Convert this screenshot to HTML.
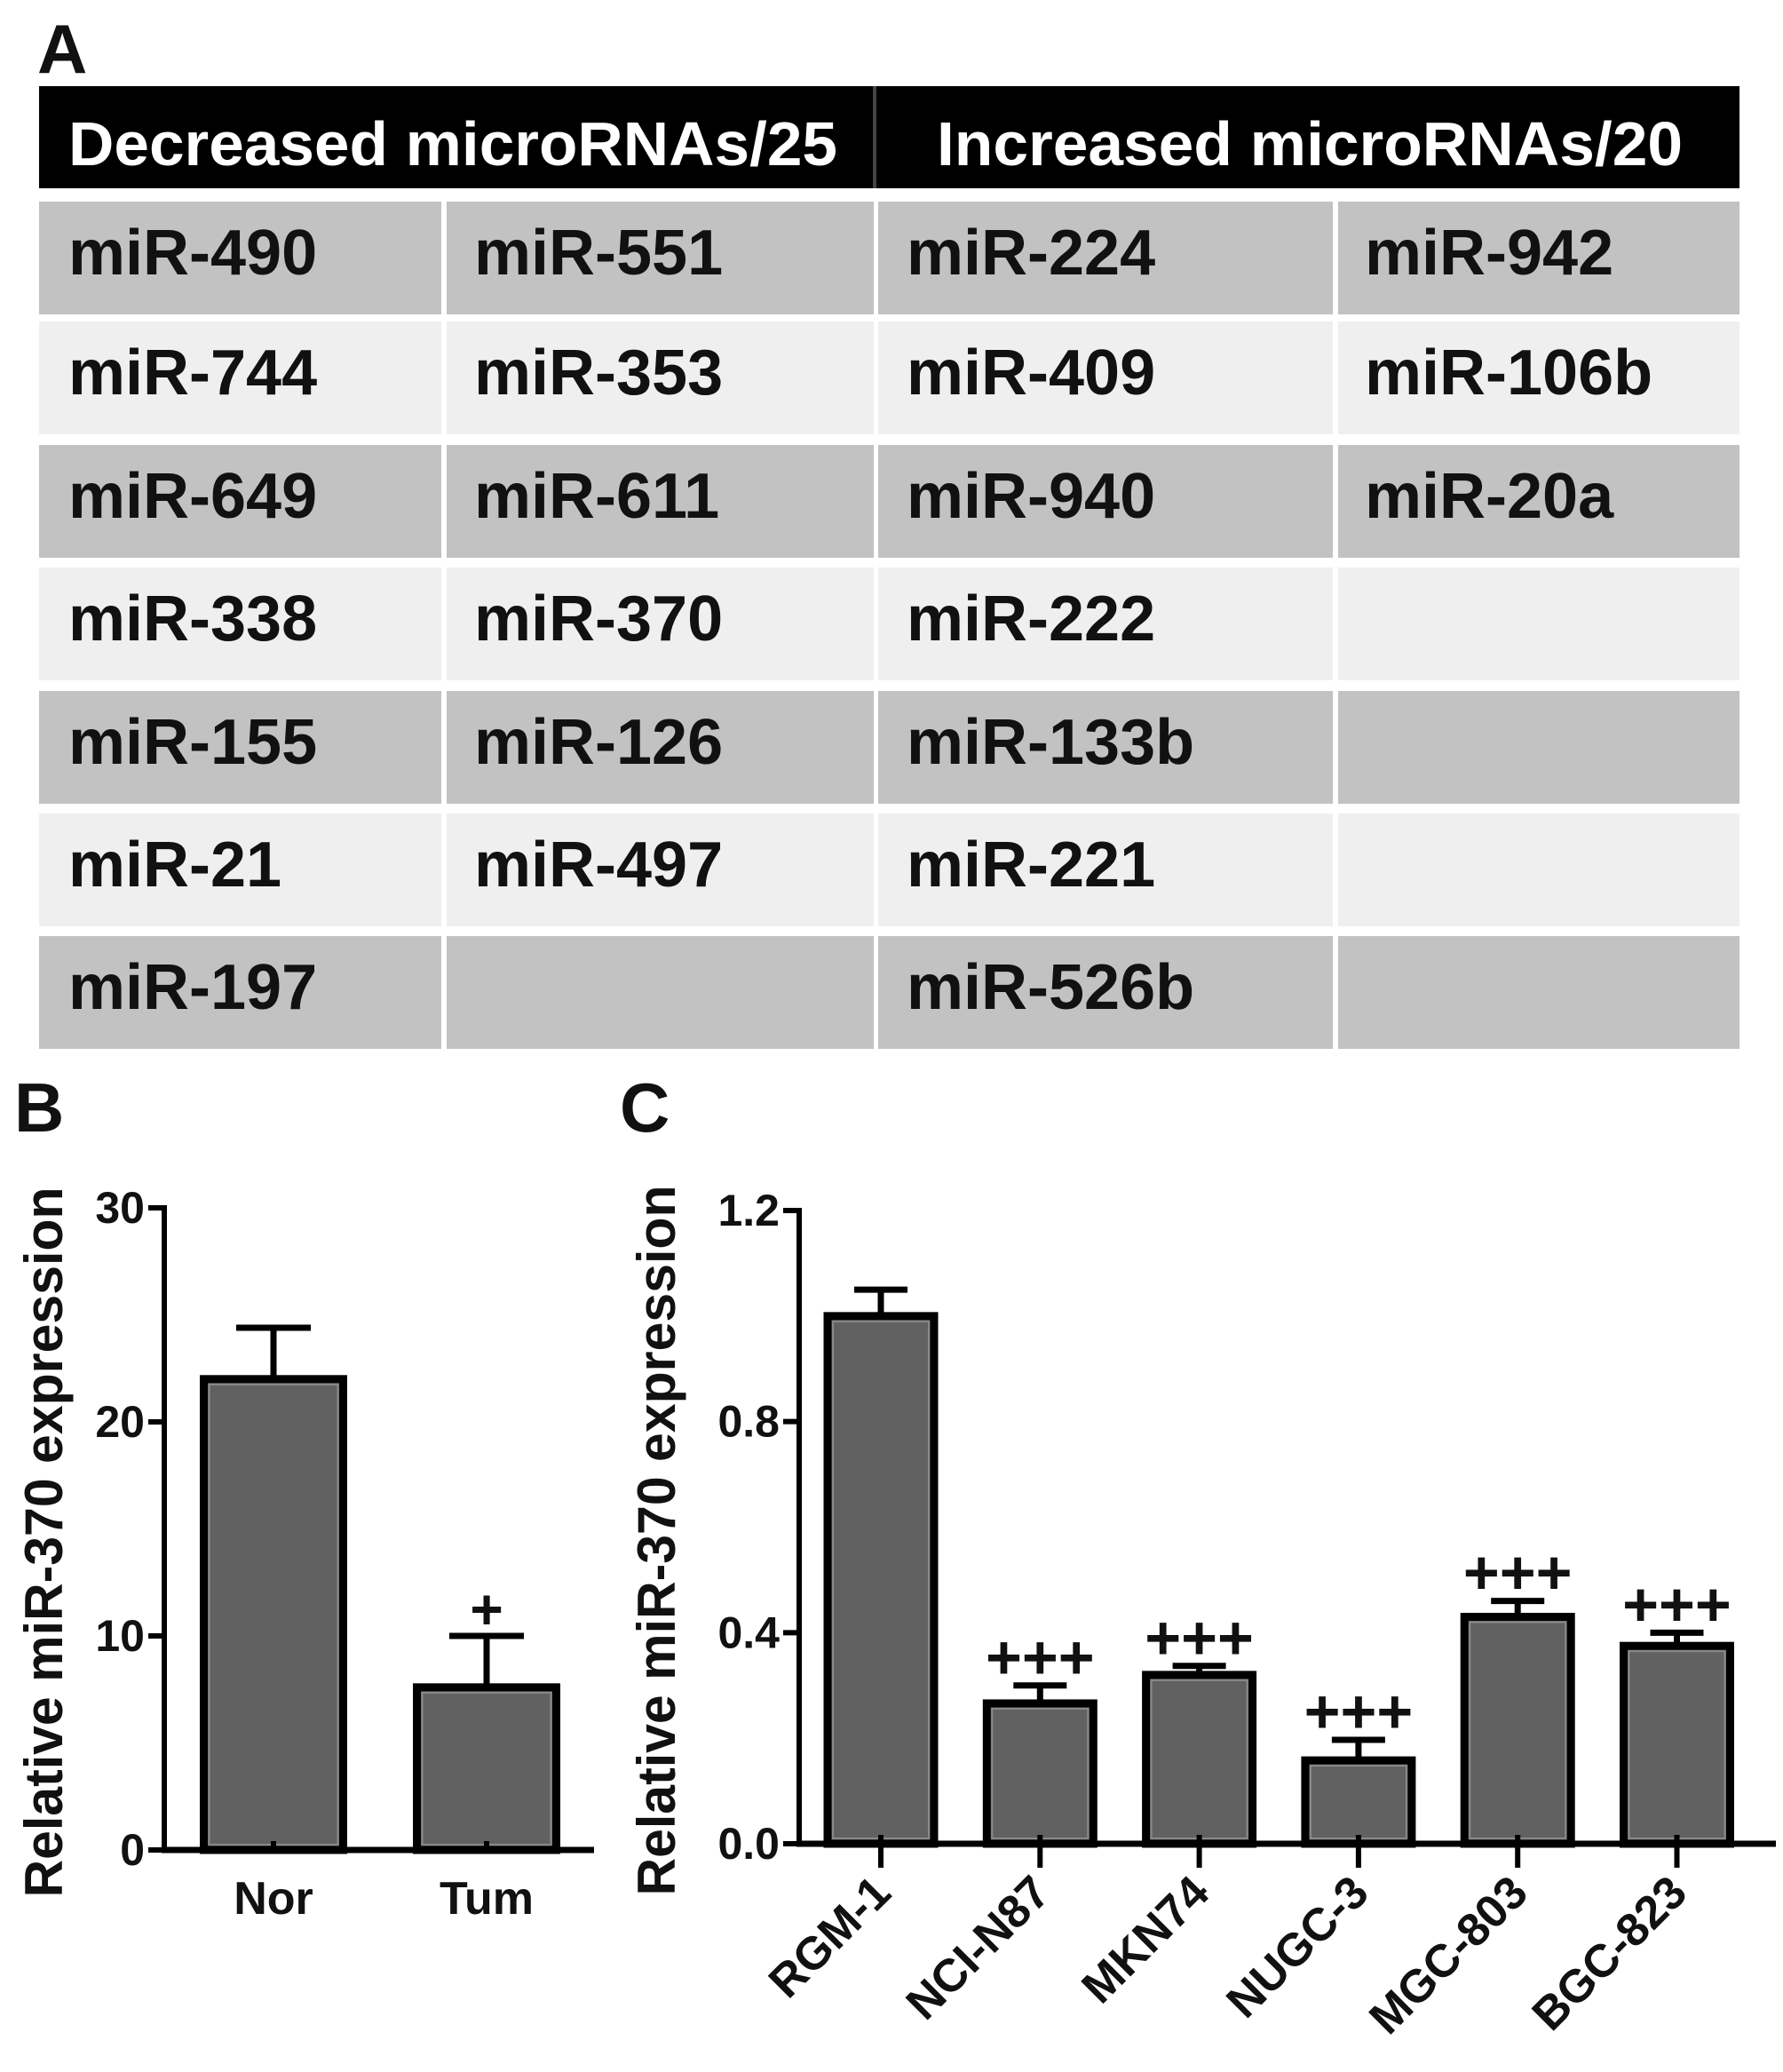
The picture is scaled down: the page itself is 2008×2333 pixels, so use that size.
<!DOCTYPE html>
<html><head><meta charset="utf-8"><style>
html,body{margin:0;padding:0;background:#fff}
svg{display:block}
text{font-family:"Liberation Sans",Arial,sans-serif;font-weight:bold;fill:#111}
</style></head><body>
<svg id="fig" width="2008" height="2333" viewBox="0 0 2008 2333" xmlns="http://www.w3.org/2000/svg">
<text x="42" y="82" font-size="78">A</text>
<g id="tbl"></g>
<text x="16" y="1274" font-size="78">B</text>
<text x="698" y="1274" font-size="78">C</text>
<g id="chartB"></g>
<g id="chartC"></g>
</svg>
<script>
const NS="http://www.w3.org/2000/svg";
function mk(parent,tag,attrs){const e=document.createElementNS(NS,tag);for(const k in attrs)e.setAttribute(k,attrs[k]);parent.appendChild(e);return e;}

// ---- Table ----
const headers=["Decreased microRNAs/25","Increased microRNAs/20"];
const col1=["miR-490","miR-744","miR-649","miR-338","miR-155","miR-21","miR-197"];
const col2=["miR-551","miR-353","miR-611","miR-370","miR-126","miR-497",""];
const col3=["miR-224","miR-409","miR-940","miR-222","miR-133b","miR-221","miR-526b"];
const col4=["miR-942","miR-106b","miR-20a","","","",""];
(function(){
  const g=document.getElementById('tbl');
  let r=mk(g,'rect',{x:44,y:97,width:1915,height:115,fill:'#000'});
  
  
  mk(g,'rect',{x:983,y:97,width:4,height:115,fill:'#444'});
  const hx=[77,1055];
  const hl=[866,840];
  headers.forEach((h,i)=>{const t=mk(g,'text',{x:hx[i],y:186,'font-size':70,textLength:hl[i],lengthAdjust:'spacingAndGlyphs',style:'fill:#fff'});t.textContent=h;
    
    });
  const rowTops=[227,362,501,639,778,916,1054];
  const rowH=127;
  const cx=[[44,497],[503,984],[989,1501],[1507,1959]];
  const tx=[77,534,1021,1537];
  const cols=[col1,col2,col3,col4];
  rowTops.forEach((y,ri)=>{
    const fill=ri%2===0?'#c2c2c2':'#efefef';
    cols.forEach((c,ci)=>{
      const rc=mk(g,'rect',{x:cx[ci][0],y:y,width:cx[ci][1]-cx[ci][0],height:rowH,fill:fill});
      
      
      if(c[ri]){const t=mk(g,'text',{x:tx[ci],y:y+82,'font-size':72});t.textContent=c[ri];
        
        }
    });
  });
})();

// ---- Chart B ----
const bCats=["Nor","Tum"];
const bVals=[22,7.6];
const bErr=[2.4,2.4];
const bSig=["","+"];
const bTicks=[0,10,20,30];
// ---- Chart C ----
const cCats=["RGM-1","NCI-N87","MKN74","NUGC-3","MGC-803","BGC-823"];
const cVals=[1.0,0.266,0.32,0.158,0.43,0.375];
const cErr=[0.05,0.034,0.017,0.039,0.03,0.025];
const cSig=["","+++","+++","+++","+++","+++"];
const cTicks=["0.0","0.4","0.8","1.2"];

function drawChart(gid,o){
  const g=document.getElementById(gid);
  const y=v=>o.y0-(v-o.min)/(o.max-o.min)*(o.y0-o.y1);
  const xc=i=>o.first+o.band*i;
  const yt=mk(g,'text',{x:0,y:0,'font-size':60,'text-anchor':'middle',transform:`translate(${o.titleX},${(o.y1+o.y0)/2+15}) rotate(-90)`});
  yt.textContent="Relative miR-370 expression";
  yt.setAttribute('textLength',o.titleLen);
  yt.setAttribute('lengthAdjust','spacingAndGlyphs');
  
  
  o.vals.forEach((v,i)=>{
    const c=xc(i), top=y(v), et=y(v+o.err[i]);
    const el=mk(g,'line',{x1:c,x2:c,y1:top,y2:et,stroke:'#000','stroke-width':7});
    
    
    const cap=mk(g,'line',{x1:c-o.cap,x2:c+o.cap,y1:et,y2:et,stroke:'#000','stroke-width':7});
    
    
    const b=mk(g,'rect',{x:c-o.bw/2,y:top,width:o.bw,height:o.y0-top,fill:'#616161',stroke:'#000','stroke-width':9});
    
    
    mk(g,'rect',{x:c-o.bw/2+6,y:top+6,width:o.bw-12,height:Math.max(0,o.y0-top-12),fill:'none',stroke:'#8a8a8a','stroke-width':2});
    if(o.sig[i]){const s=mk(g,'text',{x:c,y:et-8,'font-size':o.sigSize,'text-anchor':'middle'});s.textContent=o.sig[i];
      
      }
    mk(g,'line',{x1:c,x2:c,y1:o.y0-10,y2:o.y0+o.xTick,stroke:'#000','stroke-width':6});
    let lab;
    if(o.rot){lab=mk(g,'text',{x:0,y:0,'font-size':52,'text-anchor':'end',transform:`translate(${c+14},${o.y0+58}) rotate(-45)`});}
    else lab=mk(g,'text',{x:c,y:o.y0+72,'font-size':52,'text-anchor':'middle'});
    lab.textContent=o.cats[i];
    
    
  });
  const ya=mk(g,'line',{x1:o.ax,x2:o.ax,y1:o.y1-3,y2:o.y0+3,stroke:'#000','stroke-width':6});
  
  
  const xa=mk(g,'line',{x1:o.ax-3,x2:o.xEnd,y1:o.y0,y2:o.y0,stroke:'#000','stroke-width':7});
  
  
  o.ticks.forEach(t=>{const v=parseFloat(t);const yy=y(v);
    mk(g,'line',{x1:o.ax-18,x2:o.ax,y1:yy,y2:yy,stroke:'#000','stroke-width':6});
    const tl=mk(g,'text',{x:o.ax-22,y:yy+17,'font-size':50,'text-anchor':'end'});tl.textContent=t;
    
    });
}
drawChart('chartB',{cats:bCats,vals:bVals,err:bErr,sig:bSig,ticks:bTicks,min:0,max:30,ax:185,y0:2083,y1:1360,xEnd:669,first:308,band:240,bw:157,cap:42,sigSize:64,xTick:0,rot:false,titleX:70,titleLen:800});
drawChart('chartC',{cats:cCats,vals:cVals,err:cErr,sig:cSig,ticks:cTicks,min:0,max:1.2,ax:900,y0:2076,y1:1363,xEnd:2000,first:992,band:179.3,bw:120,cap:30,sigSize:70,xTick:27,rot:true,titleX:760,titleLen:800});
</script>
</body></html>
